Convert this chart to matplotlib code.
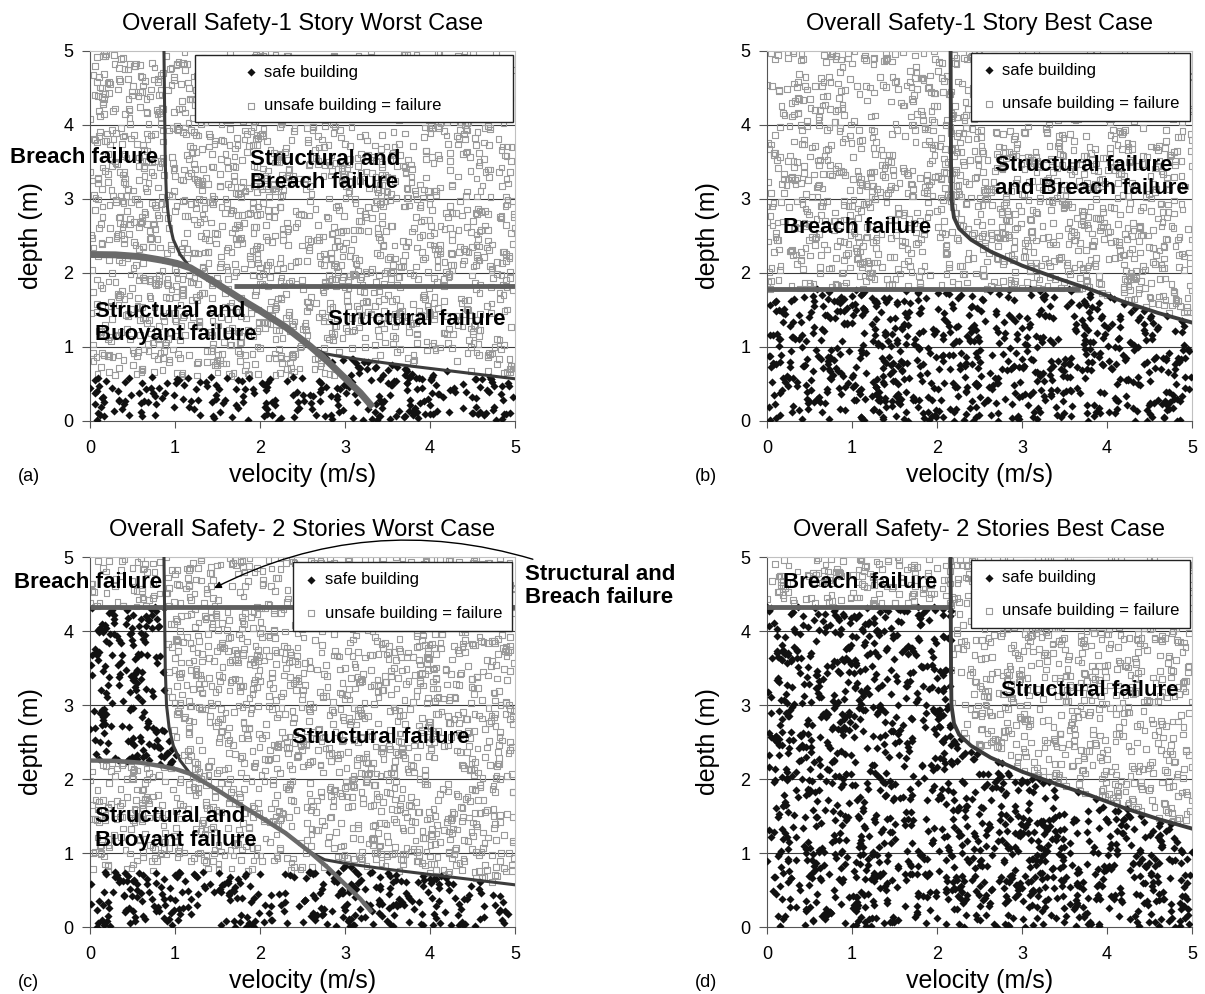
import numpy as np
import matplotlib.pyplot as plt
from matplotlib.patches import Rectangle

plt.rcParams['font.family'] = ['Liberation Sans', 'DejaVu Sans']

# sampled (velocity, depth) pairs of the Monte Carlo run, one cloud per panel
n_samples = 2200
seeds = [11, 23, 37, 41]

titles = ['Overall Safety-1 Story Worst Case', 'Overall Safety-1 Story Best Case',
          'Overall Safety- 2 Stories Worst Case', 'Overall Safety- 2 Stories Best Case']
tags = ['(a)', '(b)', '(c)', '(d)']

# structural failure curve, worst case (velocity m/s, depth m)
struct_worst_v = [0.87, 0.885, 0.90, 0.93, 0.98, 1.06, 1.18, 1.5, 1.84, 2.0, 2.3, 2.59, 2.76, 3.0, 3.5, 4.0, 4.5, 5.0]
struct_worst_d = [5.0, 3.5, 3.0, 2.7, 2.45, 2.25, 2.07, 1.85, 1.6, 1.49, 1.27, 1.01, 0.91, 0.86, 0.78, 0.71, 0.64, 0.57]
# structural failure curve, best case
struct_best_v = [2.16, 2.165, 2.17, 2.2, 2.26, 2.4, 2.63, 3.0, 3.41, 3.8, 4.2, 4.6, 5.0]
struct_best_d = [5.0, 3.5, 3.0, 2.75, 2.6, 2.45, 2.29, 2.1, 1.93, 1.78, 1.61, 1.46, 1.33]
# buoyancy curve (worst case panels)
buoy_v = [0.0, 0.3, 0.6, 0.86, 1.02, 1.18, 1.5, 1.84, 2.0, 2.3, 2.59, 2.8, 2.98, 3.18, 3.3]
buoy_d = [2.25, 2.245, 2.22, 2.17, 2.13, 2.07, 1.85, 1.6, 1.49, 1.27, 1.01, 0.8, 0.6, 0.38, 0.22]

# breach depth per panel and extent of its line
breach_depth = [1.82, 1.78, 4.33, 4.33]
breach_from = [1.69, 0.0, 0.0, 0.0]
breach_to = [5.0, 3.68, 5.0, 2.16]
# depth below which buoyancy is not a problem (worst case only)
buoy_floor = [0.6, None, 0.75, None]

region_text = [
    [('Breach failure', -0.94, 3.56), ('Structural and\nBreach failure', 1.88, 3.38),
     ('Structural and\nBuoyant failure', 0.06, 1.32), ('Structural failure', 2.8, 1.37)],
    [('Structural failure\nand Breach failure', 2.68, 3.3), ('Breach failure', 0.19, 2.61)],
    [('Breach failure', -0.9, 4.65), ('Structural failure', 2.38, 2.56),
     ('Structural and\nBuoyant failure', 0.06, 1.33), ('Structural and\nBreach failure', 5.12, 4.61)],
    [('Breach  failure', 0.19, 4.65), ('Structural failure', 2.75, 3.19)],
]

rects = [[0.0747, 0.5765, 0.3527, 0.3722], [0.6365, 0.5765, 0.3527, 0.3722],
         [0.0747, 0.0674, 0.3527, 0.3722], [0.6365, 0.0674, 0.3527, 0.3722]]
legend_anchor = [(0.335, 0.99), (0.995, 0.995), (0.993, 0.986), (0.995, 0.992)]

fig = plt.figure(figsize=(12.05, 9.94), dpi=100)

for k in range(4):
    ax = fig.add_axes(rects[k])
    rng = np.random.default_rng(seeds[k])
    v = rng.uniform(0, 5, n_samples)
    d = rng.uniform(0, 5, n_samples)

    worst = k in (0, 2)
    if worst:
        sv, sd = struct_worst_v, struct_worst_d
    else:
        sv, sd = struct_best_v, struct_best_d
    s_lim = np.interp(v, sv, sd, left=10.0)
    safe = (d < breach_depth[k]) & (d < s_lim)
    if worst:
        b_lim = np.interp(v, buoy_v, buoy_d, left=buoy_d[0], right=0.0)
        safe &= (d < buoy_floor[k]) | (d > b_lim)

    for yy in [1, 2, 3, 4]:
        ax.axhline(yy, color='#3a3a3a', lw=0.8, zorder=1)

    ax.scatter(v[~safe], d[~safe], marker='s', s=17, facecolors='none',
               edgecolors='#9a9a9a', linewidths=0.8, zorder=2,
               label='unsafe building = failure')
    ax.scatter(v[safe], d[safe], marker='D', s=17, color='#111111',
               linewidths=0, zorder=3, label='safe building')

    ax.plot([breach_from[k], breach_to[k]], [breach_depth[k]] * 2,
            color='#606060', lw=3.5, zorder=4, solid_capstyle='butt')
    if worst:
        ax.plot(sv, sd, color='#3c3c3c', lw=2.2, zorder=4)
        ax.plot(buoy_v, buoy_d, color='#6a6a6a', lw=5 if k == 0 else 3.2, zorder=5)
    else:
        ax.plot(sv, sd, color='#3c3c3c', lw=2.8, zorder=4)

    ax.set_xlim(0, 5)
    ax.set_ylim(0, 5)
    ax.set_xticks(range(6))
    ax.set_yticks(range(6))
    ax.tick_params(labelsize=13, width=0.8, color='#555555')
    ax.tick_params(axis='x', length=5, pad=8.5)
    ax.tick_params(axis='y', length=6, pad=6)
    for side in ['left', 'bottom']:
        ax.spines[side].set_color('#555555')
    for side in ['top', 'right']:
        ax.spines[side].set_color('#c0c0c0')

    handles, labels = ax.get_legend_handles_labels()
    wide_box = (k == 0)
    leg = ax.legend(handles[::-1], labels[::-1],
                    loc='upper left' if wide_box else 'upper right',
                    bbox_to_anchor=legend_anchor[k], borderaxespad=0,
                    fontsize=12, frameon=not wide_box, fancybox=False, framealpha=1,
                    edgecolor='#222222', scatterpoints=1, labelspacing=1.1,
                    borderpad=0.6, handlelength=1.0, handletextpad=0.3)
    leg.get_frame().set_linewidth(1.0)
    leg.set_zorder(7)
    if wide_box:
        ax.add_patch(Rectangle((0.247, 0.807), 0.748, 0.183, transform=ax.transAxes,
                               facecolor='white', edgecolor='#222222', lw=1.0,
                               zorder=6.5, clip_on=False))

    for txt, tx, ty in region_text[k]:
        ax.text(tx, ty, txt, fontsize=16, fontweight='bold', ha='left',
                va='center', zorder=8, linespacing=1.15)

    ax.text(0.5, 1.073, titles[k], transform=ax.transAxes, ha='center',
            va='center', fontsize=17)
    ax.text(0.5, -0.146, 'velocity (m/s)', transform=ax.transAxes,
            ha='center', va='center', fontsize=18)
    ax.text(-0.139, 0.5, 'depth (m)', transform=ax.transAxes, ha='center',
            va='center', rotation=90, fontsize=18)
    ax.text(-0.169, -0.151, tags[k], transform=ax.transAxes, ha='left',
            va='center', fontsize=13)

    if k == 2:
        ax.annotate('', xy=(1.46, 4.58), xytext=(5.21, 4.97),
                    annotation_clip=False,
                    arrowprops=dict(arrowstyle='-|>', color='black', lw=1.0,
                                    shrinkA=0, shrinkB=0, mutation_scale=10,
                                    connectionstyle='arc3,rad=0.2'))

fig.savefig('out.png', dpi=100)
